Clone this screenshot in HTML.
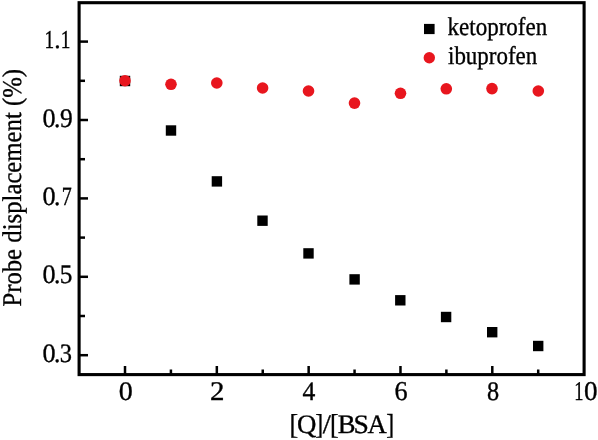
<!DOCTYPE html>
<html><head><meta charset="utf-8"><style>
html,body{margin:0;padding:0;background:#fff;}
svg{display:block;}
text{font-family:"Liberation Serif",serif;fill:#000;stroke:#000;stroke-width:0.35px;text-rendering:geometricPrecision;}
</style></head><body>
<svg width="598" height="440" viewBox="0 0 598 440">
<rect width="598" height="440" fill="#fff"/>
<rect x="79.1" y="2.7" width="505" height="371.9" fill="none" stroke="#000" stroke-width="3.1"/>
<line x1="80" y1="355.20" x2="88" y2="355.20" stroke="#000" stroke-width="2.5"/>
<line x1="80" y1="316.00" x2="85" y2="316.00" stroke="#000" stroke-width="2.5"/>
<line x1="80" y1="276.80" x2="88" y2="276.80" stroke="#000" stroke-width="2.5"/>
<line x1="80" y1="237.60" x2="85" y2="237.60" stroke="#000" stroke-width="2.5"/>
<line x1="80" y1="198.40" x2="88" y2="198.40" stroke="#000" stroke-width="2.5"/>
<line x1="80" y1="159.20" x2="85" y2="159.20" stroke="#000" stroke-width="2.5"/>
<line x1="80" y1="120.00" x2="88" y2="120.00" stroke="#000" stroke-width="2.5"/>
<line x1="80" y1="80.80" x2="85" y2="80.80" stroke="#000" stroke-width="2.5"/>
<line x1="80" y1="41.60" x2="88" y2="41.60" stroke="#000" stroke-width="2.5"/>
<line x1="125.01" y1="374" x2="125.01" y2="366" stroke="#000" stroke-width="2.5"/>
<line x1="170.92" y1="374" x2="170.92" y2="369.5" stroke="#000" stroke-width="2.5"/>
<line x1="216.83" y1="374" x2="216.83" y2="366" stroke="#000" stroke-width="2.5"/>
<line x1="262.74" y1="374" x2="262.74" y2="369.5" stroke="#000" stroke-width="2.5"/>
<line x1="308.65" y1="374" x2="308.65" y2="366" stroke="#000" stroke-width="2.5"/>
<line x1="354.56" y1="374" x2="354.56" y2="369.5" stroke="#000" stroke-width="2.5"/>
<line x1="400.47" y1="374" x2="400.47" y2="366" stroke="#000" stroke-width="2.5"/>
<line x1="446.38" y1="374" x2="446.38" y2="369.5" stroke="#000" stroke-width="2.5"/>
<line x1="492.29" y1="374" x2="492.29" y2="366" stroke="#000" stroke-width="2.5"/>
<line x1="538.20" y1="374" x2="538.20" y2="369.5" stroke="#000" stroke-width="2.5"/>
<rect x="119.80" y="75.80" width="10.4" height="10.4" fill="#000"/>
<rect x="165.80" y="125.30" width="10.4" height="10.4" fill="#000"/>
<rect x="211.70" y="176.20" width="10.4" height="10.4" fill="#000"/>
<rect x="257.30" y="215.50" width="10.4" height="10.4" fill="#000"/>
<rect x="303.30" y="248.20" width="10.4" height="10.4" fill="#000"/>
<rect x="349.40" y="274.20" width="10.4" height="10.4" fill="#000"/>
<rect x="395.10" y="295.10" width="10.4" height="10.4" fill="#000"/>
<rect x="440.90" y="311.80" width="10.4" height="10.4" fill="#000"/>
<rect x="487.00" y="327.00" width="10.4" height="10.4" fill="#000"/>
<rect x="533.00" y="340.80" width="10.4" height="10.4" fill="#000"/>
<circle cx="125" cy="80.7" r="5.8" fill="#e8161e"/>
<circle cx="171" cy="84.3" r="5.8" fill="#e8161e"/>
<circle cx="216.8" cy="83" r="5.8" fill="#e8161e"/>
<circle cx="262.6" cy="88" r="5.8" fill="#e8161e"/>
<circle cx="308.5" cy="91" r="5.8" fill="#e8161e"/>
<circle cx="354.5" cy="103.1" r="5.8" fill="#e8161e"/>
<circle cx="400.5" cy="93.3" r="5.8" fill="#e8161e"/>
<circle cx="446.3" cy="88.8" r="5.8" fill="#e8161e"/>
<circle cx="492" cy="88.6" r="5.8" fill="#e8161e"/>
<circle cx="538.3" cy="91" r="5.8" fill="#e8161e"/>
<rect x="424" y="23.9" width="10.6" height="10.2" fill="#000"/>
<circle cx="429.3" cy="57.8" r="5.7" fill="#e8161e"/>
<g style="filter:grayscale(1)">
<text transform="translate(447.56,34.50) scale(0.9024,1)" font-size="25.50">ketoprofen</text>
<text transform="translate(448.02,63.90) scale(0.9000,1)" font-size="25.50">ibuprofen</text>
<text transform="translate(44.40,48.00) scale(0.7500,1)" font-size="25.76">1</text>
<text transform="translate(54.22,48.00) scale(0.9870,1)" font-size="25.76">.</text>
<text transform="translate(60.80,48.00) scale(0.7500,1)" font-size="25.76">1</text>
<text transform="translate(42.61,126.93) scale(0.9763,1)" font-size="26.81">0</text>
<text transform="translate(54.12,126.93) scale(0.9481,1)" font-size="26.81">.</text>
<text transform="translate(60.08,126.93) scale(0.9520,1)" font-size="26.81">9</text>
<text transform="translate(42.61,204.93) scale(0.9872,1)" font-size="26.52">0</text>
<text transform="translate(54.12,204.93) scale(0.9587,1)" font-size="26.52">.</text>
<text transform="translate(61.78,204.93) scale(0.7542,1)" font-size="26.52">7</text>
<text transform="translate(42.61,283.43) scale(0.9763,1)" font-size="26.81">0</text>
<text transform="translate(54.12,283.43) scale(0.9481,1)" font-size="26.81">.</text>
<text transform="translate(59.63,283.43) scale(0.9439,1)" font-size="26.81">5</text>
<text transform="translate(42.61,361.73) scale(0.9872,1)" font-size="26.52">0</text>
<text transform="translate(54.12,361.73) scale(0.9587,1)" font-size="26.52">.</text>
<text transform="translate(59.73,361.73) scale(0.9222,1)" font-size="26.52">3</text>
<text transform="translate(118.83,400.23) scale(1.0467,1)" font-size="26.81">0</text>
<text transform="translate(209.93,400.20) scale(1.0758,1)" font-size="26.89">2</text>
<text transform="translate(302.59,400.00) scale(0.9588,1)" font-size="26.75">4</text>
<text transform="translate(394.47,400.23) scale(0.9632,1)" font-size="27.23">6</text>
<text transform="translate(486.88,400.23) scale(0.9059,1)" font-size="26.81">8</text>
<text transform="translate(574.17,400.23) scale(0.6811,1)" font-size="27.11">1</text>
<text transform="translate(583.97,400.23) scale(1.0004,1)" font-size="27.11">0</text>
<text transform="translate(289.38,434.15) scale(0.9048,1)" font-size="28.74">[</text>
<text transform="translate(297.10,432.70) scale(1.0078,1)" font-size="26.60">Q</text>
<text transform="translate(315.34,434.15) scale(0.8268,1)" font-size="28.74">]</text>
<text transform="translate(322.80,432.70) scale(1.0954,1)" font-size="26.60">/</text>
<text transform="translate(330.08,434.15) scale(0.9048,1)" font-size="28.74">[</text>
<text transform="translate(337.73,432.70) scale(1.0021,1)" font-size="26.60">B</text>
<text transform="translate(353.45,432.70) scale(1.0389,1)" font-size="26.60">S</text>
<text transform="translate(367.53,432.70) scale(1.0025,1)" font-size="26.60">A</text>
<text transform="translate(386.14,434.33) scale(0.8234,1)" font-size="28.86">]</text>
<text transform="translate(20.50,306.62) rotate(-90) scale(0.9163,1)" font-size="27.0">Probe displacement (%)</text>
</g>
</svg>
</body></html>
